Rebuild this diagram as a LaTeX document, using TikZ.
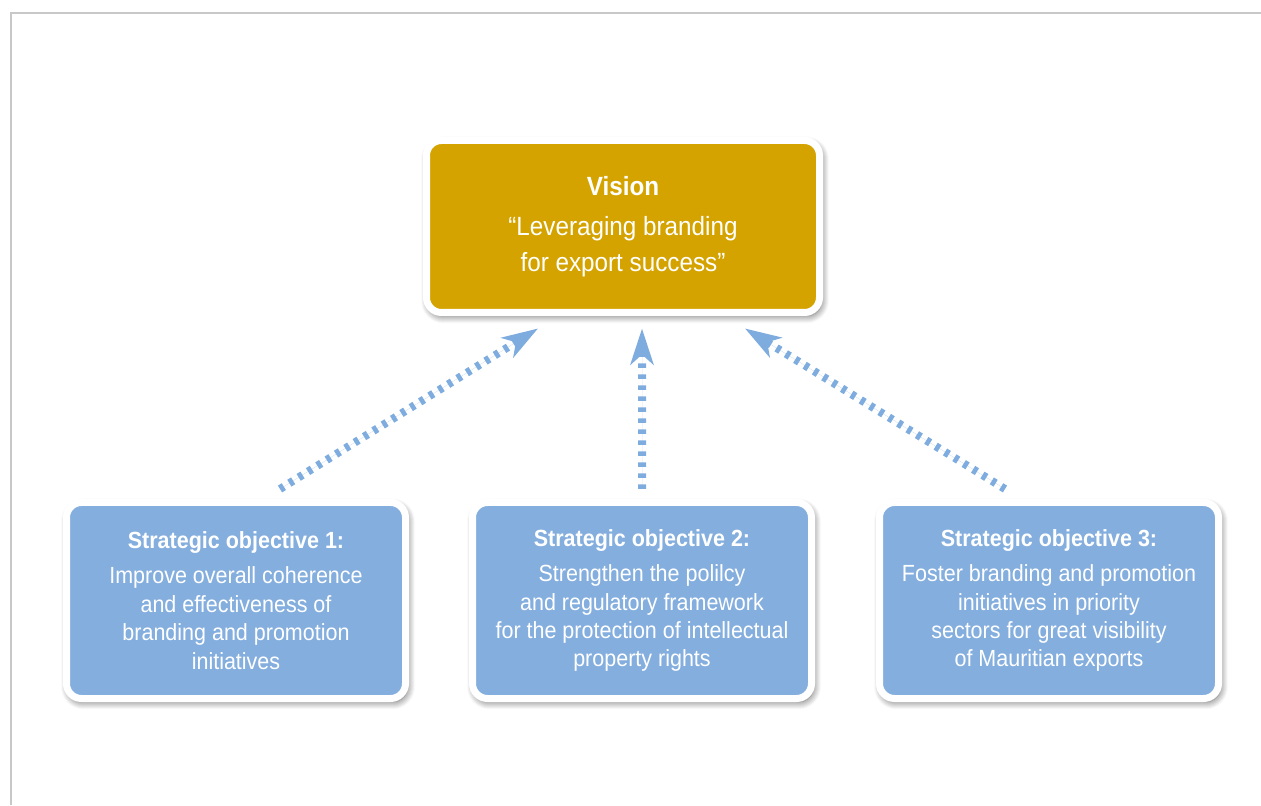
\documentclass[tikz,border=0pt]{standalone}
\usepackage{fontspec}
\setmainfont{Liberation Sans}[FakeStretch=0.92]
\usetikzlibrary{arrows.meta,shadows.blur}
\definecolor{visiongold}{HTML}{D4A300}
\definecolor{objblue}{HTML}{84AEDE}
\definecolor{arrowblue}{HTML}{7FACDE}
\definecolor{framegray}{HTML}{C8C8C8}

\begin{document}
\begin{tikzpicture}[>={Stealth[length=0.72cm,width=0.46cm,inset=0.2cm]},
  card/.style={draw=white, line width=0.14cm, rounded corners=0.3cm,
    align=center, text=white, inner sep=0pt,
    blur shadow={shadow xshift=0.04cm, shadow yshift=-0.07cm,
      shadow blur radius=0.15cm, shadow blur steps=8, shadow opacity=65}},
  objcard/.style={card, fill=objblue, minimum width=6.78cm, minimum height=3.92cm,
    font=\fontsize{13.3}{16.2}\selectfont},
  link/.style={->, draw=arrowblue, fill=arrowblue, line width=0.16cm,
    dash pattern=on 0.09cm off 0.13cm}]
  \useasboundingbox (0,0) rectangle (25.22,16.1);
  \draw[framegray, line width=0.04cm] (0.22,0) -- (0.22,15.84) -- (25.22,15.84);

  \node[card, fill=visiongold, minimum width=7.86cm, minimum height=3.44cm,
    font=\fontsize{15}{20}\selectfont] (vision) at (12.46,11.57)
    {\textbf{Vision}\\[3pt] “Leveraging branding\\ for export success”};

  \node[objcard] (obj1) at (4.72,4.09)
    {\textbf{Strategic objective 1:}\\[4pt] Improve overall coherence\\ and effectiveness of\\
     branding and promotion\\ initiatives};
  \node[objcard] (obj2) at (12.84,4.09)
    {\textbf{Strategic objective 2:}\\[4pt] Strengthen the polilcy\\ and regulatory framework\\
     for the protection of intellectual\\ property rights};
  \node[objcard] (obj3) at (20.98,4.09)
    {\textbf{Strategic objective 3:}\\[4pt] Foster branding and promotion\\ initiatives in priority\\
     sectors for great visibility\\ of Mauritian exports};

  \draw[link] ([xshift=0.88cm,yshift=0.2cm]obj1.north) -- ([xshift=-1.7cm,yshift=-0.25cm]vision.south);
  \draw[link] ([yshift=0.2cm]obj2.north) -- ([xshift=0.38cm,yshift=-0.25cm]vision.south);
  \draw[link] ([xshift=-0.88cm,yshift=0.2cm]obj3.north) -- ([xshift=2.44cm,yshift=-0.25cm]vision.south);
\end{tikzpicture}
\end{document}
